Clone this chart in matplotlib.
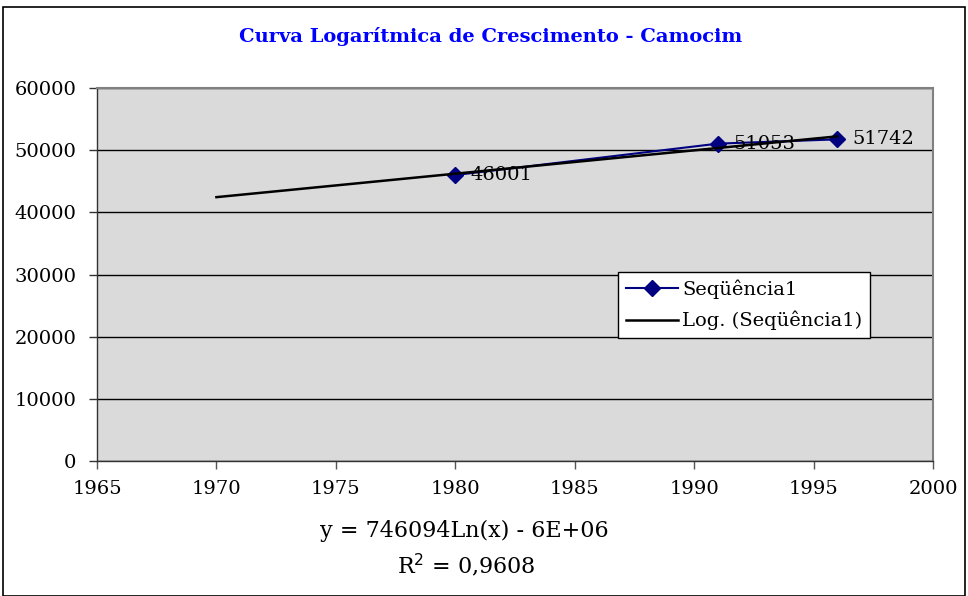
import numpy as np
import matplotlib
matplotlib.use("Agg")
import matplotlib.pyplot as plt
from matplotlib.patches import Rectangle

plt.rcParams['font.family'] = ['DejaVu Serif']

title = "Curva Logarítmica de Crescimento - Camocim"
years = [1980, 1991, 1996]
population = [46001, 51053, 51742]
series_label = "Seqüência1"
trend_label = "Log. (Seqüência1)"
trend_start = 1970
equation_text = "y = 746094Ln(x) - 6E+06"
r2_text = "R$^2$ = 0,9608"
x_ticks = [1965, 1970, 1975, 1980, 1985, 1990, 1995, 2000]
y_ticks = [0, 10000, 20000, 30000, 40000, 50000, 60000]

fig = plt.figure(figsize=(9.68, 5.96), dpi=100)
W, H = 968, 596
ax = fig.add_axes([97 / W, 1 - 461 / H, (933 - 97) / W, (461 - 88) / H])

# outer chart border
fig.patches.append(Rectangle((3 / W, 0.0), 962 / W, 1 - 7 / H, transform=fig.transFigure,
                             fill=False, edgecolor='black', linewidth=1.2))

ax.set_facecolor('#dadada')
ax.set_xlim(1965, 2000)
ax.set_ylim(0, 60000)
ax.set_xticks(x_ticks)
ax.set_yticks(y_ticks)
ax.tick_params(axis='both', direction='out', length=6, width=1, labelsize=14, labelcolor='black')
ax.tick_params(axis='x', pad=8, color='#555555')
ax.tick_params(axis='y', pad=9, color='#333333')
for s in ['top', 'right']:
    ax.spines[s].set_color('#808080')
    ax.spines[s].set_linewidth(1.5)
for s in ['left', 'bottom']:
    ax.spines[s].set_color('#333333')
    ax.spines[s].set_linewidth(1)
ax.grid(axis='y', color='black', linewidth=1)
ax.set_axisbelow(True)

# logarithmic trendline from least squares fit of data
b, a = np.polyfit(np.log(years), population, 1)
xt = np.linspace(trend_start, max(years), 200)
yt = a + b * np.log(xt)

ax.plot(years, population, color='#000080', linewidth=1.5, marker='D', markersize=8,
        label=series_label, zorder=3)
ax.plot(xt, yt, color='black', linewidth=1.8, label=trend_label, zorder=4)

for x, y in zip(years, population):
    ax.annotate(f"{y}", (x, y), xytext=(11, 0), textcoords='offset points',
                fontsize=14, ha='left', va='center', zorder=5)

leg = ax.legend(loc='upper left', bbox_to_anchor=((618 - 97) / (933 - 97), 1 - (272 - 88) / (461 - 88)),
                fontsize=14, frameon=True, fancybox=False, edgecolor='black',
                framealpha=1, borderpad=0.4, handlelength=2.7, handletextpad=0.2,
                labelspacing=0.6, borderaxespad=0)
leg.get_frame().set_linewidth(1)

fig.text(491 / W, 1 - 36 / H, title, color='#0000ff', fontweight='bold', fontsize=14,
         ha='center', va='center')
fig.text(464 / W, 1 - 531 / H, equation_text, fontsize=16, ha='center', va='center')
fig.text(466 / W, 1 - 565 / H, r2_text, fontsize=16, ha='center', va='center')

fig.savefig("out.png", dpi=100)
